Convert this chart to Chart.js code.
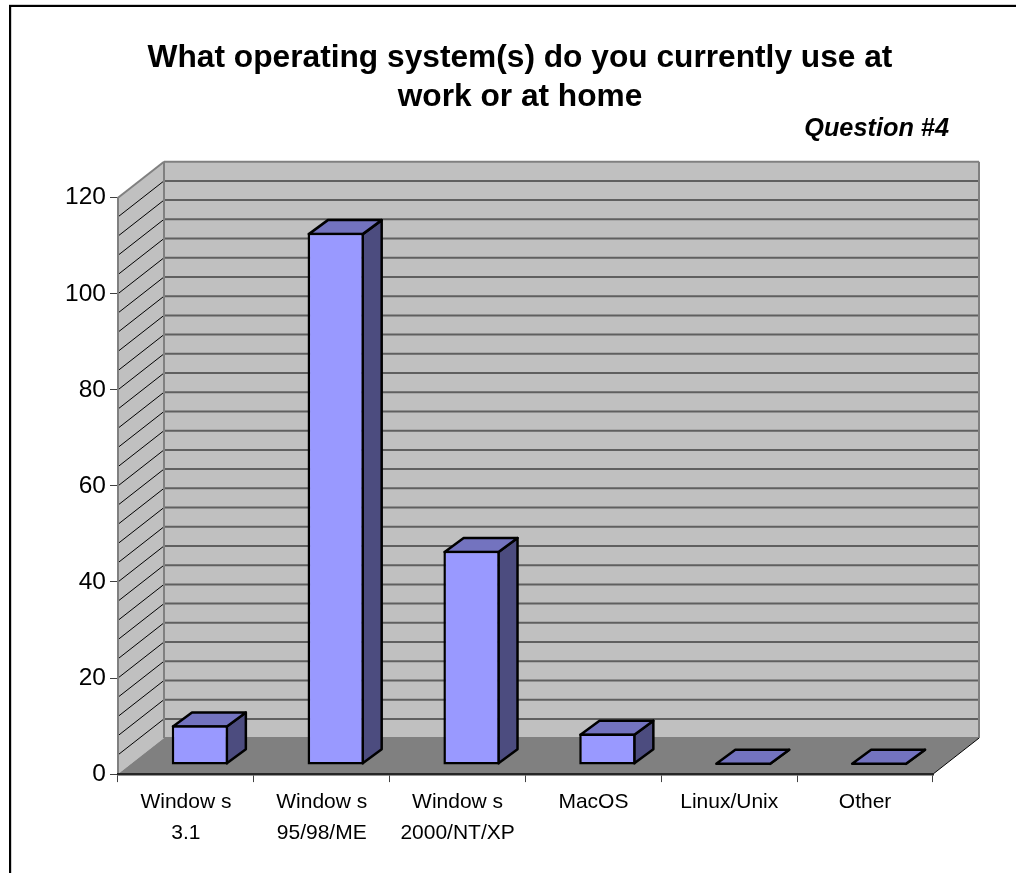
<!DOCTYPE html>
<html>
<head>
<meta charset="utf-8">
<title>Question #4</title>
<script src="https://cdn.jsdelivr.net/npm/chart.js@4/dist/chart.umd.min.js"></script>
<style>
    html, body { margin:0; padding:0; background:#ffffff; }
    canvas { display:block; }
</style>
</head>
<body>
<canvas id="grafico" width="1016" height="873"></canvas>
<script>

// Datos

const categorias = [
    ["Window s","3.1"],
    ["Window s","95/98/ME"],
    ["Window s","2000/NT/XP"],
    "MacOS",
    "Linux/Unix",
    "Other"
];

const valores = [8.3, 110.8, 44.6, 6.6, 0, 0];

const tituloTexto = ["What operating system(s) do you currently use at","work or at home"];

const preguntaTexto = "Question #4";

// Profundidad del efecto 3D

const fondoX = 46;
const fondoY = 36;
const barraDesX = 14;
const barraDesY = 9;
const barraFondoX = 19;
const barraFondoY = 14;
const barraBorde = 2.5;

function poligono(ctx, puntos, relleno, borde, grosor){

    ctx.beginPath();
    ctx.moveTo(puntos[0][0], puntos[0][1]);

    for(let i = 1; i < puntos.length; i++){
        ctx.lineTo(puntos[i][0], puntos[i][1]);
    }

    ctx.closePath();

    if(relleno){
        ctx.fillStyle = relleno;
        ctx.fill();
    }

    if(borde){
        ctx.strokeStyle = borde;
        ctx.lineWidth = grosor;
        ctx.lineJoin = "round";
        ctx.stroke();
    }

}

function linea(ctx, x1, y1, x2, y2, color, grosor){

    ctx.beginPath();
    ctx.moveTo(x1, y1);
    ctx.lineTo(x2, y2);
    ctx.strokeStyle = color;
    ctx.lineWidth = grosor;
    ctx.stroke();

}

// Paredes, piso, marco y texto de la pregunta

const paredes = {

    id:"paredes",

    // El título va centrado en x=520, no en el ancho del gráfico

    afterLayout(chart){

        chart.titleBlock.left = 1040 - chart.chartArea.right;
        chart.titleBlock.right = chart.chartArea.right;

    },

    beforeDraw(chart){

        const ctx = chart.ctx;
        const area = chart.chartArea;
        const izq = area.left;
        const der = area.right;
        const arr = area.top;
        const aba = area.bottom;

        ctx.save();

        ctx.fillStyle = "#ffffff";
        ctx.fillRect(0, 0, chart.width, chart.height);

        // Marco exterior

        ctx.fillStyle = "#d0d0d0";
        ctx.fillRect(9, 4, chart.width - 9, 1);
        ctx.fillRect(11, 7, 1, chart.height - 7);

        ctx.fillStyle = "#000000";
        ctx.fillRect(9, 5, chart.width - 9, 2);
        ctx.fillRect(9, 5, 2, chart.height - 5);

        poligono(ctx, [[izq + fondoX, arr - fondoY], [der + fondoX, arr - fondoY], [der + fondoX, aba - fondoY], [izq + fondoX, aba - fondoY]], "#c0c0c0", null, 0);

        poligono(ctx, [[izq, arr], [izq + fondoX, arr - fondoY], [izq + fondoX, aba - fondoY], [izq, aba]], "#c0c0c0", null, 0);

        // Líneas de la cuadrícula

        chart.scales.y.ticks.forEach(function(tick){

            const y = chart.scales.y.getPixelForValue(tick.value);

            if(tick.value > 0 && tick.value < 120){
                linea(ctx, izq, y, izq + fondoX, y - fondoY, "#000000", 1);
                linea(ctx, izq + fondoX, y - fondoY, der + fondoX, y - fondoY, "#5f5f5f", 2);
            }

        });

        poligono(ctx, [[izq, aba], [der, aba], [der + fondoX, aba - fondoY], [izq + fondoX, aba - fondoY]], "#808080", null, 0);

        // Bordes de las paredes

        linea(ctx, izq, arr, izq + fondoX, arr - fondoY, "#808080", 2);
        linea(ctx, izq + fondoX, arr - fondoY, der + fondoX, arr - fondoY, "#808080", 2);
        linea(ctx, der + fondoX, arr - fondoY, der + fondoX, aba - fondoY, "#808080", 2);
        linea(ctx, izq + fondoX, arr - fondoY, izq + fondoX, aba - fondoY, "#808080", 2);
        linea(ctx, izq + fondoX, aba - fondoY, der + fondoX, aba - fondoY, "#808080", 2);
        linea(ctx, der, aba, der + fondoX, aba - fondoY, "#000000", 1);

        ctx.fillStyle = "#000000";
        ctx.font = "italic bold 25.3px 'Liberation Sans'";
        ctx.textAlign = "right";
        ctx.textBaseline = "alphabetic";
        ctx.fillText(preguntaTexto, 949, 136);

        ctx.restore();

    },

    // Caras lateral y superior de cada barra

    beforeDatasetsDraw(chart){

        const ctx = chart.ctx;

        ctx.save();
        ctx.translate(barraDesX, -barraDesY);

        chart.getDatasetMeta(0).data.forEach(function(barra){

            const izq = barra.x - barra.width / 2 + barraBorde / 2;
            const der = barra.x + barra.width / 2 - barraBorde / 2;
            const aba = barra.base - barraBorde / 2;
            const arr = barra.base > barra.y ? barra.y + barraBorde / 2 : aba;

            poligono(ctx, [[der, arr], [der + barraFondoX, arr - barraFondoY], [der + barraFondoX, aba - barraFondoY], [der, aba]], "#4c4c7f", "#000000", barraBorde);

            poligono(ctx, [[izq, arr], [izq + barraFondoX, arr - barraFondoY], [der + barraFondoX, arr - barraFondoY], [der, arr]], "#7373bf", "#000000", barraBorde);

        });

    },

    afterDatasetsDraw(chart){

        chart.ctx.restore();

    }

};

// Crear gráfico

new Chart(document.getElementById("grafico"),{

    type:"bar",

    data:{

        labels:categorias,

        datasets:[{

            data:valores,

            backgroundColor:"#9999ff",

            borderColor:"#000000",

            borderWidth:barraBorde,

            borderSkipped:false,

            categoryPercentage:1,

            barPercentage:.415,

            clip:false

        }]

    },

    options:{

        responsive:false,

        animation:false,

        layout:{
            padding:{
                left:60,
                right:83,
                top:0,
                bottom:20
            }
        },

        plugins:{

            legend:{
                display:false
            },

            tooltip:{
                enabled:false
            },

            title:{

                display:true,

                text:tituloTexto,

                color:"#000000",

                font:{
                    family:"'Liberation Sans'",
                    size:31.7,
                    weight:"bold",
                    lineHeight:1.23
                },

                padding:{
                    top:39,
                    bottom:80.7
                }

            }

        },

        scales:{

            y:{

                min:0,

                max:120,

                afterFit:function(escala){
                    escala.width = 58;
                },

                ticks:{

                    stepSize:4,

                    autoSkip:false,

                    color:"#000000",

                    padding:4,

                    font:{
                        family:"'Liberation Sans'",
                        size:24.5
                    },

                    callback:function(valor){
                        return valor % 20 === 0 ? valor : "";
                    }

                },

                grid:{

                    drawOnChartArea:false,

                    tickLength:8,

                    tickColor:function(c){
                        return c.tick && c.tick.value % 20 === 0 ? "#404040" : "rgba(0,0,0,0)";
                    }

                },

                border:{
                    color:"#808080",
                    width:2
                }

            },

            x:{

                ticks:{

                    color:"#000000",

                    maxRotation:0,

                    autoSkip:false,

                    padding:5,

                    font:{
                        family:"'Liberation Sans'",
                        size:21,
                        lineHeight:1.45
                    }

                },

                grid:{
                    drawOnChartArea:false,
                    tickLength:8,
                    tickColor:"#404040"
                },

                border:{
                    color:"#262626",
                    width:2.5
                }

            }

        }

    },

    plugins:[paredes]

});

</script>
</body>
</html>
